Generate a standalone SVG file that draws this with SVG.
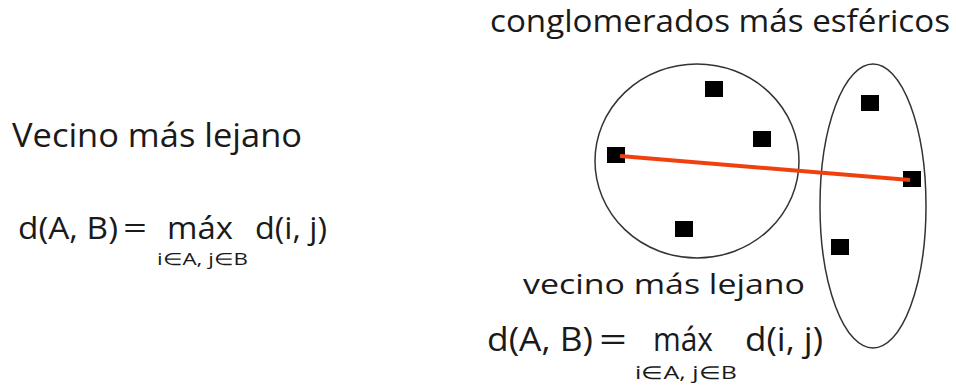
<svg xmlns="http://www.w3.org/2000/svg" width="956" height="386" viewBox="0 0 956 386">
<style>
.t{font-family:"Open Sans","Noto Sans","Liberation Sans",sans-serif;fill:#1a1a1a}
.pt{fill:#000}
.cl{fill:none;stroke:#333;stroke-width:1.5}
</style>
<rect width="956" height="386" fill="#fff"/>
<g id="title-left">
<text class="t" x="12" y="147" font-size="33" textLength="290" lengthAdjust="spacingAndGlyphs">Vecino más lejano</text>
</g>
<g id="formula-left">
<text class="t" x="18" y="239" font-size="31" textLength="100" lengthAdjust="spacingAndGlyphs">d(A, B)</text>
<text class="t" x="123" y="239" font-size="31" textLength="24" lengthAdjust="spacingAndGlyphs">=</text>
<text class="t" x="167" y="239" font-size="31" textLength="66" lengthAdjust="spacingAndGlyphs">máx</text>
<text class="t" x="255" y="239" font-size="31" textLength="72" lengthAdjust="spacingAndGlyphs">d(i, j)</text>
<text class="t" x="157" y="265" font-size="17" textLength="91" lengthAdjust="spacingAndGlyphs">i∈A, j∈B</text>
</g>
<g id="title-right">
<text class="t" x="490" y="32" font-size="31" textLength="460" lengthAdjust="spacingAndGlyphs">conglomerados más esféricos</text>
</g>
<g id="cluster-A">
<ellipse class="cl" cx="697" cy="161" rx="102" ry="97"/>
<rect class="pt" x="705" y="81" width="18" height="16"/>
<rect class="pt" x="753" y="131" width="18" height="16"/>
<rect class="pt" x="607" y="147" width="18" height="16"/>
<rect class="pt" x="675" y="221" width="18" height="16"/>
</g>
<g id="cluster-B">
<ellipse class="cl" cx="873" cy="206" rx="53" ry="142"/>
<rect class="pt" x="861" y="95" width="18" height="16"/>
<rect class="pt" x="903" y="171" width="18" height="16"/>
<rect class="pt" x="831" y="239" width="18" height="16"/>
</g>
<g id="connectors">
<line x1="620" y1="156" x2="910" y2="180" stroke="#f0400f" stroke-width="4"/>
</g>
<g id="label-bottom">
<text class="t" x="523" y="294" font-size="28" textLength="282" lengthAdjust="spacingAndGlyphs">vecino más lejano</text>
</g>
<g id="formula-bottom">
<text class="t" x="487" y="351" font-size="32" textLength="106" lengthAdjust="spacingAndGlyphs">d(A, B)</text>
<text class="t" x="599" y="351" font-size="32" textLength="28" lengthAdjust="spacingAndGlyphs">=</text>
<text class="t" x="653" y="351" font-size="32" textLength="60" lengthAdjust="spacingAndGlyphs">máx</text>
<text class="t" x="745" y="351" font-size="32" textLength="78" lengthAdjust="spacingAndGlyphs">d(i, j)</text>
<text class="t" x="635" y="379" font-size="18" textLength="102" lengthAdjust="spacingAndGlyphs">i∈A, j∈B</text>
</g>
</svg>
